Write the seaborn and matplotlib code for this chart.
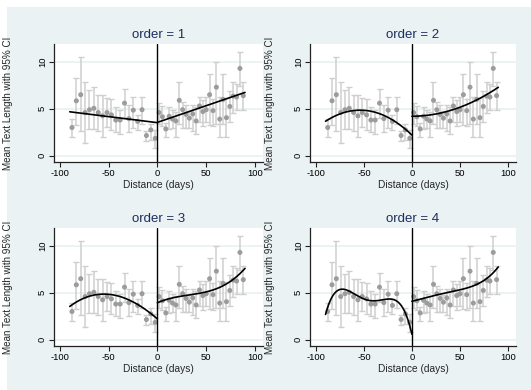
import numpy as np
import pandas as pd
import matplotlib
matplotlib.use("Agg")
import matplotlib.pyplot as plt
import seaborn as sns
from matplotlib.patches import Rectangle

sns.set_style("white")
plt.rcParams["font.family"] = ["Liberation Sans", "DejaVu Sans"]

# ---- binned data (left of cutoff) ----
left_x = [-87.75, -83.25, -78.75, -74.25, -69.75, -65.25, -60.75, -56.25, -51.75, -47.25,
          -42.75, -38.25, -33.75, -29.25, -24.75, -20.25, -15.75, -11.25, -6.75, -2.25]
left_y = [3.0, 5.85, 6.5, 4.6, 4.9, 5.05, 4.6, 4.25, 4.6, 4.35,
          3.8, 3.8, 5.6, 3.95, 4.85, 3.65, 4.9, 2.15, 2.75, 1.85]
left_lo = [2.0, 3.3, 2.6, 1.4, 2.8, 2.8, 2.6, 1.95, 3.1, 2.7,
           2.5, 2.3, 4.0, 2.5, 3.0, 2.7, 3.4, 1.6, 1.65, 0.8]
left_hi = [3.95, 8.3, 10.5, 7.8, 7.0, 7.35, 6.5, 6.45, 6.1, 6.0,
           5.2, 4.85, 7.15, 5.4, 6.3, 4.3, 6.3, 2.65, 3.4, 2.75]

# ---- binned data (right of cutoff) ----
right_x = [1.73, 5.19, 8.65, 12.12, 15.58, 19.04, 22.5, 25.96, 29.42, 32.88, 36.35, 39.81, 43.27,
           46.73, 50.19, 53.65, 57.12, 60.58, 64.04, 67.5, 70.96, 74.42, 77.88, 81.35, 84.81, 88.27]
right_y = [4.6, 4.15, 2.85, 4.2, 3.9, 3.7, 5.9, 4.9, 4.4, 4.0, 4.45, 3.7, 5.3,
           4.7, 4.9, 6.5, 4.8, 7.3, 3.9, 6.0, 4.05, 5.25, 6.35, 6.25, 9.3, 6.4]
right_lo = [3.4, 3.2, 2.0, 2.8, 3.0, 2.0, 3.4, 3.0, 3.0, 2.9, 2.6, 2.3, 3.6,
            3.2, 3.6, 3.3, 3.2, 3.4, 2.0, 3.4, 2.0, 3.6, 4.6, 4.9, 7.4, 4.9]
right_hi = [5.6, 5.3, 3.5, 5.2, 4.9, 4.7, 7.9, 5.7, 5.4, 4.8, 5.4, 5.2, 6.3,
            5.9, 6.3, 8.7, 6.0, 10.0, 6.3, 8.7, 6.1, 6.9, 7.9, 7.6, 11.1, 7.9]

# ---- fitted polynomial curves ----
orders = [1, 2, 3, 4]
fit_left_x = [-90, -80, -70, -60, -50, -40, -30, -20, -10, -5, 0]
fit_right_x = [0, 15, 30, 45, 60, 75, 90]
fit1_left = [4.68, 4.55, 4.42, 4.29, 4.16, 4.04, 3.91, 3.78, 3.65, 3.58, 3.52]
fit2_left = [3.67, 4.24, 4.62, 4.82, 4.84, 4.67, 4.33, 3.80, 3.09, 2.67, 2.2]
fit3_left = [3.56, 4.2, 4.6, 4.82, 4.83, 4.68, 4.33, 3.75, 2.95, 2.6, 2.3]
fit4_left = [2.75, 4.9, 5.35, 4.95, 4.4, 4.15, 4.15, 4.2, 3.6, 2.5, 0.46]
fit1_right = [3.55, 4.08, 4.61, 5.15, 5.68, 6.21, 6.74]
fit2_right = [4.22, 4.28, 4.52, 4.98, 5.6, 6.35, 7.27]
fit3_right = [3.91, 4.5, 4.7, 4.95, 5.4, 6.25, 7.58]
fit4_right = [4.09, 4.5, 4.85, 5.2, 5.6, 6.3, 7.75]
fits_left = [fit1_left, fit2_left, fit3_left, fit4_left]
fits_right = [fit1_right, fit2_right, fit3_right, fit4_right]

x_ticks = [-100, -50, 0, 50, 100]
y_ticks = [0, 5, 10]

bins = pd.DataFrame({
    "x": left_x + right_x,
    "y": left_y + right_y,
    "lo": left_lo + right_lo,
    "hi": left_hi + right_hi,
})

W, H = 531, 390
BG = "#EAF2F3"
TITLE = "#1c2e5e"
AXC = "#222222"

fig = plt.figure(figsize=(W / 100, H / 100), dpi=100, facecolor="white")
fig.patches.append(Rectangle((7 / W, 0), 1 - 7 / W, 1 - 7 / H,
                             transform=fig.transFigure, facecolor=BG,
                             edgecolor="none", zorder=-10))

# axes boxes in pixels: (left, top, right, bottom)
boxes = [(54, 44, 263, 162), (310, 44, 516, 162),
         (54, 228, 263, 346), (310, 228, 516, 346)]
ylab_x = [13.3, 275, 13.3, 275]


def smooth(xs, ys, k, lo, hi):
    c = np.polyfit(xs, ys, k)
    g = np.linspace(lo, hi, 200)
    return pd.DataFrame({"x": g, "y": np.polyval(c, g)})


for i, (l, t, r, b) in enumerate(boxes):
    ax = fig.add_axes([l / W, 1 - b / H, (r - l) / W, (b - t) / H])
    ax.set_facecolor("white")
    for yv in y_ticks:
        ax.axhline(yv, color=BG, lw=1.3, zorder=0)

    ax.errorbar(bins["x"], bins["y"],
                yerr=[bins["y"] - bins["lo"], bins["hi"] - bins["y"]],
                fmt="none", ecolor="#cfcfcf", elinewidth=1.1, capsize=1.9,
                capthick=1.0, zorder=1)
    sns.scatterplot(data=bins, x="x", y="y", color="#9c9c9c", s=13,
                    edgecolor="none", ax=ax, zorder=2)
    ax.axvline(0, color="black", lw=1.0, zorder=3)

    k = orders[i]
    dl = smooth(fit_left_x, fits_left[i], k, -90, 0)
    dr = smooth(fit_right_x, fits_right[i], k, 0, 90)
    sns.lineplot(data=dl, x="x", y="y", color="black", lw=1.2, ax=ax, zorder=4)
    sns.lineplot(data=dr, x="x", y="y", color="black", lw=1.2, ax=ax, zorder=4)

    ax.set_xlim(-106.2, 108.5)
    ax.set_ylim(-0.67, 11.9)
    ax.set_xticks(x_ticks)
    ax.set_yticks(y_ticks)
    ax.set_xticklabels([str(v) for v in x_ticks], fontsize=6.8)
    ax.set_yticklabels([str(v) for v in y_ticks], fontsize=6.8,
                       rotation=90, va="center")
    ax.tick_params(axis="both", direction="out", length=3.5, width=0.8,
                   color=AXC, pad=1.5, labelcolor="black")
    ax.tick_params(bottom=True, left=True)
    for s in ["top", "right"]:
        ax.spines[s].set_visible(False)
    for s in ["left", "bottom"]:
        ax.spines[s].set_visible(True)
        ax.spines[s].set_color(AXC)
        ax.spines[s].set_linewidth(0.9)

    ax.set_xlabel("Distance (days)", fontsize=7.3, labelpad=1.5)
    ax.set_ylabel("Mean Text Length with 95% CI", fontsize=7.1)
    ax.yaxis.set_label_coords((ylab_x[i] - l) / (r - l), 0.5)
    ax.set_title(f"order = {k}", fontsize=9.5, color=TITLE, pad=4.5)

fig.savefig("out.png", dpi=100, facecolor=fig.get_facecolor())
